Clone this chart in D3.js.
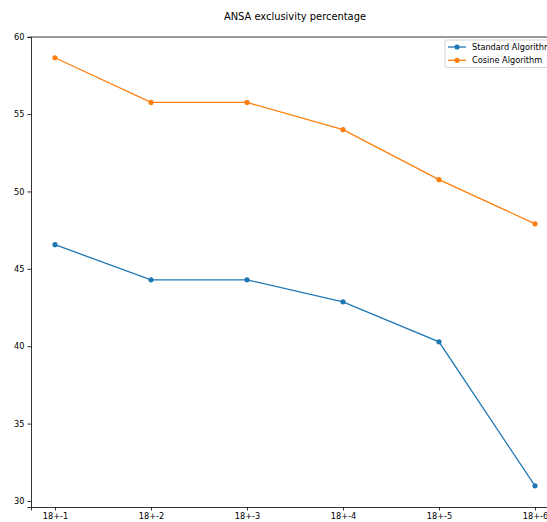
<!DOCTYPE html>
<html>
<head>
<meta charset="utf-8">
<script src="https://cdn.jsdelivr.net/npm/d3@7"></script>
<style>
  body { margin: 0; background: #fff; }
  svg { font-family: "DejaVu Sans", sans-serif; }
</style>
</head>
<body>
<div id="chart"></div>
<script>
const categories = ["18+-1", "18+-2", "18+-3", "18+-4", "18+-5", "18+-6"];
const standardValues = [46.56, 44.29, 44.29, 42.87, 40.28, 30.98];
const cosineValues = [58.64, 55.75, 55.75, 53.99, 50.76, 47.91];
const yTicks = [30, 35, 40, 45, 50, 55, 60];
const seriesNames = ["Standard Algorithm", "Cosine Algorithm"];
const colors = ["#1f77b4", "#ff7f0e"];

const W = 547, H = 522;
const margin = { top: 37, left: 31, bottom: 15 };
const plotRight = 559; // axes run past the picture edge
const svg = d3.select("#chart").append("svg")
  .attr("width", W).attr("height", H);

const x = d3.scaleLinear()
  .domain([-0.25, categories.length - 0.75])
  .range([margin.left, plotRight]);
const y = d3.scaleLinear()
  .domain([29.61, 59.98])
  .range([H - margin.bottom, margin.top]);

// title
svg.append("text")
  .attr("x", (margin.left + plotRight) / 2)
  .attr("y", 20)
  .attr("text-anchor", "middle")
  .style("font-size", "9.9px")
  .text("ANSA exclusivity percentage");

// axes
const yAxis = svg.append("g")
  .attr("transform", `translate(${margin.left},0)`)
  .call(d3.axisLeft(y).tickValues(yTicks).tickSize(3.5).tickPadding(3));
const xAxis = svg.append("g")
  .attr("transform", `translate(0,${H - margin.bottom})`)
  .call(d3.axisBottom(x).tickValues(d3.range(categories.length))
    .tickFormat((d) => categories[d]).tickSize(3.5).tickPadding(3));
[xAxis, yAxis].forEach((g) => {
  g.select(".domain").attr("stroke", "#000").attr("stroke-width", 0.8);
  g.selectAll(".tick line").attr("stroke", "#000").attr("stroke-width", 0.8);
  g.selectAll(".tick text").style("font-size", "8.2px").attr("fill", "#000")
    .style("font-family", "DejaVu Sans, sans-serif");
});
// top spine
svg.append("line")
  .attr("x1", margin.left).attr("x2", plotRight)
  .attr("y1", margin.top).attr("y2", margin.top)
  .attr("stroke", "#000").attr("stroke-width", 0.8);

const series = [standardValues, cosineValues];
const line = d3.line().x((d, i) => x(i)).y((d) => y(d));

series.forEach((vals, s) => {
  svg.append("path")
    .datum(vals)
    .attr("d", line)
    .attr("fill", "none")
    .attr("stroke", colors[s])
    .attr("stroke-width", 1.3);
  svg.selectAll(".dot" + s)
    .data(vals)
    .enter()
    .append("circle")
    .attr("cx", (d, i) => x(i))
    .attr("cy", (d) => y(d))
    .attr("r", 2.6)
    .attr("fill", colors[s]);
});

// legend
const lg = svg.append("g").attr("transform", "translate(445,40)");
lg.append("rect")
  .attr("width", 120).attr("height", 27.5).attr("rx", 2)
  .attr("fill", "#fff").attr("fill-opacity", 0.8)
  .attr("stroke", "#ccc").attr("stroke-width", 0.8);
seriesNames.forEach((name, i) => {
  const row = lg.append("g").attr("transform", `translate(0,${7 + i * 13.3})`);
  row.append("line").attr("x1", 3).attr("x2", 21)
    .attr("stroke", colors[i]).attr("stroke-width", 1.3);
  row.append("circle").attr("cx", 12).attr("r", 2.6).attr("fill", colors[i]);
  row.append("text").attr("x", 27).attr("dy", "0.35em")
    .style("font-size", "8.2px").text(name);
});
</script>
</body>
</html>
